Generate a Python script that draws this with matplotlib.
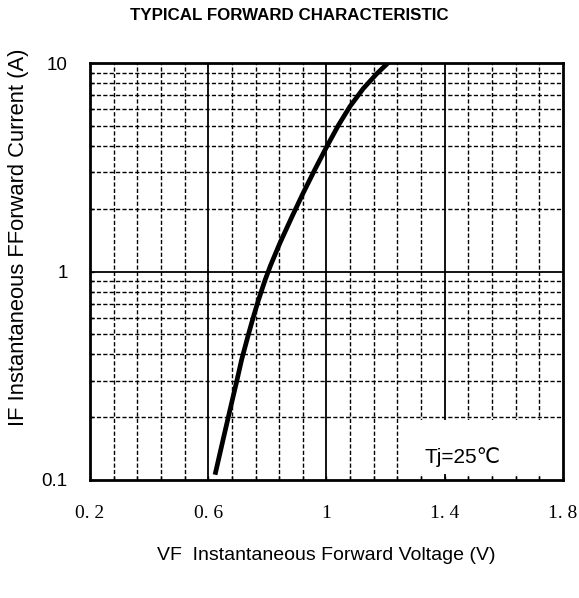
import numpy as np
import matplotlib.pyplot as plt
from matplotlib.patches import Rectangle

plt.rcParams['font.family'] = ['Liberation Sans', 'DejaVu Sans']

# forward characteristic
vf = [0.623, 0.651, 0.679, 0.696, 0.713, 0.735, 0.752, 0.769, 0.792, 0.811,
      0.842, 0.882, 0.921, 0.961, 1.000, 1.040, 1.079, 1.124, 1.169, 1.214]
i_f = [0.106, 0.158, 0.234, 0.296, 0.378, 0.494, 0.601, 0.723, 0.908, 1.072,
       1.365, 1.816, 2.377, 3.09, 3.95, 5.02, 6.18, 7.53, 8.85, 10.2]

x_major = [0.2, 0.6, 1.0, 1.4, 1.8]
x_labels = ['0. 2', '0. 6', '1', '1. 4', '1. 8']
x_minor = np.arange(0.2, 1.8001, 0.08)
y_major = [0.1, 1, 10]
y_labels = ['0.1', '1', '10']
y_minor = [m * d for d in (0.1, 1) for m in range(2, 10)]

fig = plt.figure(figsize=(5.79, 5.98), dpi=100)
ax = fig.add_axes([90 / 579, 1 - 480 / 598, 473 / 579, 417 / 598])
ax.set_yscale('log')
ax.set_xlim(0.2, 1.8)
ax.set_ylim(0.1, 10)

# grid drawn by hand so the label box can hide it but not the ticks
for x in x_minor:
    if min(abs(x - m) for m in x_major) > 1e-6:
        ax.axvline(x, color='black', lw=1.0, dashes=(3, 1.6), zorder=0.8)
for x in x_major[1:-1]:
    ax.axvline(x, color='black', lw=1.3, zorder=0.9)
for y in y_minor:
    ax.axhline(y, color='black', lw=1.0, dashes=(3, 1.6), zorder=0.8)
ax.axhline(1, color='black', lw=1.3, zorder=0.9)

ax.add_patch(Rectangle((0.687, 0.014), 0.30, 0.13, transform=ax.transAxes,
                       facecolor='white', edgecolor='none', zorder=1))
ax.text(0.787, 0.055, 'Tj=25℃', transform=ax.transAxes, fontsize=15,
        ha='center', va='center', zorder=2)

ax.plot(vf, i_f, color='black', lw=3.4, solid_capstyle='butt',
        solid_joinstyle='round', zorder=3)

ax.set_xticks(x_major)
ax.set_xticklabels(x_labels, family=['Liberation Serif'], fontsize=14)
ax.set_xticks(x_minor, minor=True)
ax.set_yticks(y_major)
ax.set_yticklabels(y_labels, fontsize=13.5)
ax.set_yticks(y_minor, minor=True)
ax.yaxis.set_minor_formatter(plt.NullFormatter())
ax.tick_params(which='both', direction='in', length=3, width=1, color='black')
ax.tick_params(axis='x', which='major', pad=18)
ax.tick_params(axis='y', which='major', pad=16)
ax.set_axisbelow(False)

for s in ax.spines.values():
    s.set_linewidth(2)
    s.set_zorder(4)

fig.text(0.5, 1 - 15 / 598, 'TYPICAL FORWARD CHARACTERISTIC', ha='center', va='center',
         fontsize=12.2, fontweight='bold')
fig.text(19 / 579, 1 - 237 / 598, 'IF Instantaneous FForward Current (A)', rotation=90,
         ha='center', va='center', fontsize=15.8)
fig.text(326 / 579, 1 - 556 / 598, 'VF  Instantaneous Forward Voltage (V)',
         ha='center', va='center', fontsize=14)

plt.savefig('out.png', dpi=100)
